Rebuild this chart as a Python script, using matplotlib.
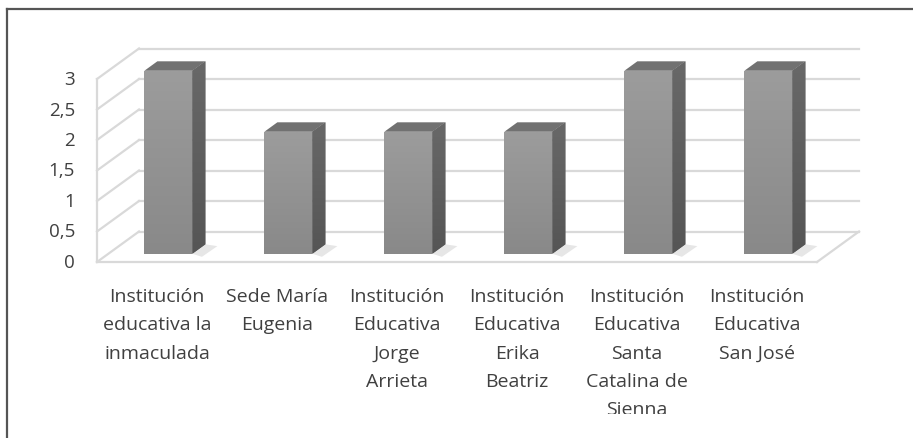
import matplotlib
matplotlib.use("Agg")
import matplotlib.pyplot as plt
import numpy as np
from matplotlib.patches import Polygon, Rectangle
from matplotlib.lines import Line2D
from matplotlib.transforms import Bbox, TransformedBbox
from matplotlib.colors import LinearSegmentedColormap

categories = [
    "Institución\neducativa la\ninmaculada",
    "Sede María\nEugenia",
    "Institución\nEducativa\nJorge\nArrieta",
    "Institución\nEducativa\nErika\nBeatriz",
    "Institución\nEducativa\nSanta\nCatalina de\nSienna",
    "Institución\nEducativa\nSan José",
]
values = [3, 2, 2, 2, 3, 3]
yticks = [0, 0.5, 1, 1.5, 2, 2.5, 3]
ytick_labels = ["0", "0,5", "1", "1,5", "2", "2,5", "3"]

plt.rcParams['font.family'] = ['Open Sans', 'DejaVu Sans']

W, H = 913, 439
fig = plt.figure(figsize=(W / 100, H / 100), dpi=100)
ax = fig.add_axes([0, 0, 1, 1])
ax.set_axis_off()

# pixel layout of the front plane
slot_px = 120.0
left_px = 97.0
zero_row = 263.0
unit_px = 61.0
ax.set_xlim(-0.5 - left_px / slot_px, -0.5 + (W - left_px) / slot_px)
ax.set_ylim((zero_row - H) / unit_px, zero_row / unit_px)

n = len(categories)
DX, DY = 0.35, 0.5          # full depth offset (category units, value units)
grid_c = "#d9d9d9"
vmax = yticks[-1]
xl, xr = -0.5, n - 0.5

# back wall gridlines
for v in yticks:
    ax.add_line(Line2D([xl + DX, xr + DX], [v + DY, v + DY], color=grid_c, lw=1.6, zorder=1))
    ax.add_line(Line2D([xl, xl + DX], [v, v + DY], color=grid_c, lw=1.6, zorder=1))
# axis and floor
ax.add_line(Line2D([xl, xl], [0, vmax], color=grid_c, lw=1.6, zorder=1))
ax.add_line(Line2D([xl, xr], [0, 0], color=grid_c, lw=1.6, zorder=1))
ax.add_line(Line2D([xr, xr + DX], [0, DY], color=grid_c, lw=1.6, zorder=1))

# bars
f0, f1 = 0.27, 0.58
hw = 0.2
front_cmap = LinearSegmentedColormap.from_list("fr", ["#898989", "#9c9c9c"])
side_cmap = LinearSegmentedColormap.from_list("sd", ["#555555", "#686868"])
grad = np.linspace(0, 1, 100).reshape(-1, 1)
for i, val in enumerate(values):
    x0 = i - hw + f0 * DX
    x1 = i + hw + f0 * DX
    b0 = f0 * DY
    t0 = val + f0 * DY
    bx = f1 * DX - f0 * DX
    by = f1 * DY - f0 * DY
    # soft shadow on floor
    sh = Polygon([(x1, b0), (x1 + bx, b0 + by), (x1 + bx + 0.1, b0 + by - 0.03),
                  (x1 + 0.08, b0 - 0.05)], closed=True, fc="#e6e6e6", ec="none", zorder=2)
    ax.add_patch(sh)
    side = Polygon([(x1, b0), (x1 + bx, b0 + by), (x1 + bx, t0 + by), (x1, t0)],
                   closed=True, fc="#5f5f5f", ec="none", zorder=3)
    ax.add_patch(side)
    ims = ax.imshow(grad, extent=(x1, x1 + bx, b0, t0 + by), origin="lower", cmap=side_cmap,
                    aspect="auto", zorder=3.5, interpolation="bilinear")
    ims.set_clip_path(side)
    top = Polygon([(x0, t0), (x1, t0), (x1 + bx, t0 + by), (x0 + bx, t0 + by)],
                  closed=True, fc="#717171", ec="none", zorder=3)
    ax.add_patch(top)
    front = Rectangle((x0, b0), x1 - x0, t0 - b0, fc="#929292", ec="none", zorder=4)
    ax.add_patch(front)
    im = ax.imshow(grad, extent=(x0, x1, b0, t0), origin="lower", cmap=front_cmap,
                   aspect="auto", zorder=4.5, interpolation="bilinear")
    im.set_clip_path(front)

# y tick labels
lab_x = -0.5 - 22 / slot_px
for v, s in zip(yticks, ytick_labels):
    ax.text(lab_x, v, s, ha="right", va="center", fontsize=13.5, color="#404040")

# category labels (clipped at chart frame)
clip = TransformedBbox(Bbox([[0, (H - 415) / H], [1, 1]]), fig.transFigure)
for i, s in enumerate(categories):
    t = ax.text(i, (zero_row - 288) / unit_px, s, ha="center", va="top", fontsize=14,
                color="#404040", linespacing=1.74, multialignment="center")
    t.set_clip_on(True)
    t.set_clip_box(clip)

# frame lines (top and left)
fig.add_artist(Line2D([7 / W, 1], [1 - 10 / H, 1 - 10 / H], transform=fig.transFigure,
                      color="#555555", lw=1.6))
fig.add_artist(Line2D([7 / W, 7 / W], [0, 1 - 10 / H], transform=fig.transFigure,
                      color="#555555", lw=1.6))

fig.savefig("out.png", dpi=100)
